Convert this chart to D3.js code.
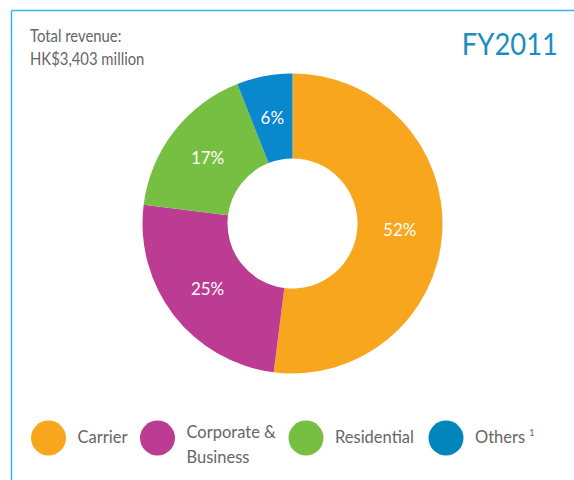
<!DOCTYPE html>
<html>
<head>
<meta charset="utf-8">
<script src="https://cdn.jsdelivr.net/npm/d3@7"></script>
<style>
  html, body { margin: 0; padding: 0; background: #fff; }
  svg { display: block; }
  text { font-family: Lato, "Open Sans", sans-serif; }
</style>
</head>
<body>
<script>
const categories = ["Carrier", "Corporate & Business", "Residential", "Others"];
const legendLines = [["Carrier"], ["Corporate &", "Business"], ["Residential"], ["Others"]];
const values = [52, 25, 17, 6];
const sliceColors = ["#F8A61E", "#BC3C93", "#77BF43", "#0A88CE"];
const legendColors = ["#F8A61E", "#BC3C93", "#77BF43", "#0086BA"];
const titleLines = ["Total revenue:", "HK$3,403 million"];
const yearLabel = "FY2011";

const W = 574, H = 480;
const svg = d3.select("body").append("svg").attr("width", W).attr("height", H);

// frame lines
svg.append("line").attr("x1", 11.5).attr("y1", 10.5).attr("x2", W).attr("y2", 10.5)
  .attr("stroke", "#33B8EA").attr("stroke-width", 1.5);
svg.append("line").attr("x1", 11.5).attr("y1", 10.5).attr("x2", 11.5).attr("y2", H)
  .attr("stroke", "#33B8EA").attr("stroke-width", 1.5);

// title (condensed look via horizontal scaling)
function condensed(x, y, size, sx, txt, fill, anchor) {
  svg.append("text")
    .attr("transform", `translate(${x},${y}) scale(${sx},1)`)
    .attr("text-anchor", anchor || "start")
    .attr("fill", fill).attr("font-size", size).text(txt);
}
condensed(30, 42, 16.5, 0.9, titleLines[0], "#666");
condensed(30, 65, 16.5, 0.9, titleLines[1], "#666");
condensed(558, 55, 31.5, 0.87, yearLabel, "#1A8EC0", "end");

// donut
const cx = 292.5, cy = 223.5, rOuter = 150, rInner = 65;
const pie = d3.pie().sort(null).value(d => d);
const arc = d3.arc().innerRadius(rInner).outerRadius(rOuter);
const g = svg.append("g").attr("transform", `translate(${cx},${cy})`);
const arcs = pie(values);
g.selectAll("path.slice").data(arcs).enter().append("path")
  .attr("class", "slice").attr("d", arc).attr("fill", (d, i) => sliceColors[i]);
g.selectAll("text.lbl").data(arcs).enter().append("text")
  .attr("class", "lbl")
  .attr("transform", d => { const c = arc.centroid(d); return `translate(${c[0]},${c[1]})`; })
  .attr("text-anchor", "middle").attr("dy", "0.35em")
  .attr("fill", "#fff").attr("font-size", 17)
  .text(d => d.data + "%");

// legend
const legendX = [48.5, 157.5, 306, 446];
const lg = svg.append("g");
categories.forEach((c, i) => {
  lg.append("circle").attr("cx", legendX[i]).attr("cy", 438).attr("r", 17.5).attr("fill", legendColors[i]);
  const lines = legendLines[i];
  const t = lg.append("text").attr("fill", "#666").attr("font-size", 16.5);
  lines.forEach((ln, j) => {
    t.append("tspan").attr("x", legendX[i] + 29).attr("y", lines.length > 1 ? 438 + j * 25 : 443).text(ln);
  });
  if (c === "Others") {
    t.append("tspan").attr("dx", 4).attr("dy", -7).attr("font-size", 9).text("1");
  }
});
</script>
</body>
</html>
